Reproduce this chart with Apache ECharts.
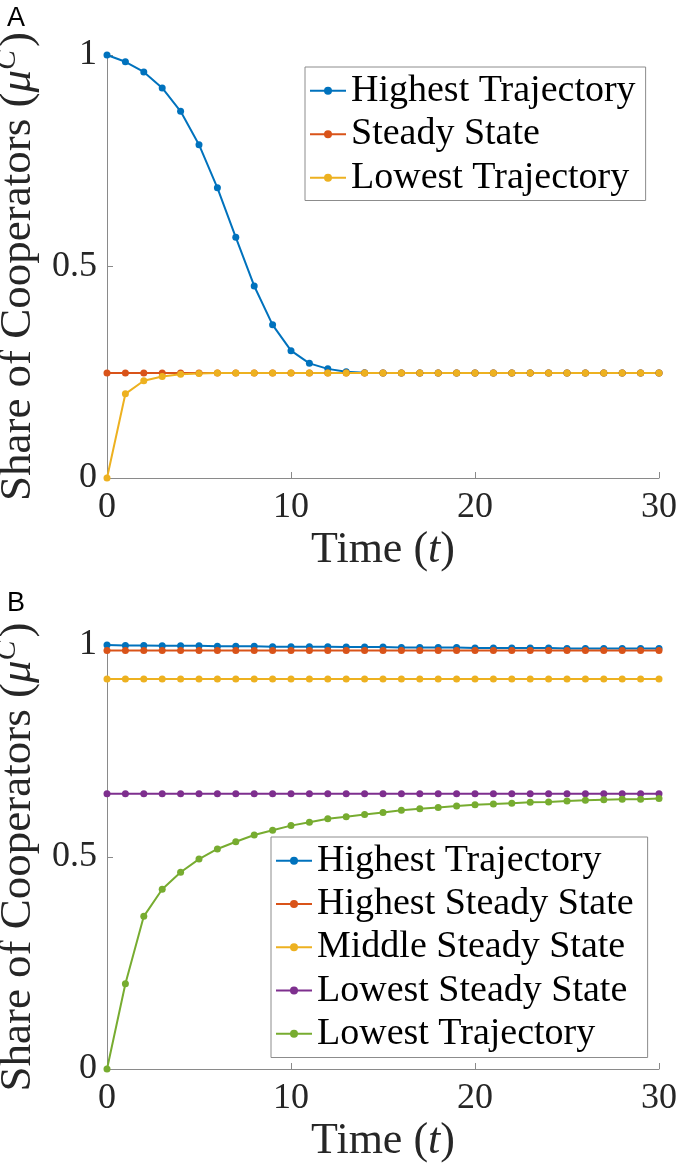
<!DOCTYPE html>
<html><head><meta charset="utf-8">
<script src="https://cdn.jsdelivr.net/npm/echarts@6/dist/echarts.min.js"></script>
<style>html,body{margin:0;padding:0;background:#fff}#c{width:677px;height:1176px}</style>
</head><body><div id="c"></div>
<script>
// ---- data ----
const timeSteps = [0,1,2,3,4,5,6,7,8,9,10,11,12,13,14,15,16,17,18,19,20,21,22,23,24,25,26,27,28,29,30];
const xTicks = [0,10,20,30];
const yTicks = [0,0.5,1];

// Panel A
const aHighestTrajectory = [1.000,0.984,0.960,0.922,0.867,0.788,0.686,0.569,0.454,0.362,0.301,0.271,0.258,0.251,0.249,0.248,0.248,0.248,0.248,0.248,0.248,0.248,0.248,0.248,0.248,0.248,0.248,0.248,0.248,0.248,0.248];
const aSteadyState = [0.248,0.248,0.248,0.248,0.248,0.248,0.248,0.248,0.248,0.248,0.248,0.248,0.248,0.248,0.248,0.248,0.248,0.248,0.248,0.248,0.248,0.248,0.248,0.248,0.248,0.248,0.248,0.248,0.248,0.248,0.248];
const aLowestTrajectory = [0.000,0.199,0.230,0.240,0.245,0.247,0.248,0.248,0.248,0.248,0.248,0.248,0.248,0.248,0.248,0.248,0.248,0.248,0.248,0.248,0.248,0.248,0.248,0.248,0.248,0.248,0.248,0.248,0.248,0.248,0.248];
const aNames = ['Highest Trajectory','Steady State','Lowest Trajectory'];

// Panel B
const bHighestTrajectory = [1.000,0.999,0.999,0.998,0.998,0.998,0.997,0.997,0.997,0.996,0.996,0.996,0.996,0.995,0.995,0.995,0.994,0.994,0.994,0.994,0.993,0.993,0.993,0.993,0.993,0.992,0.992,0.992,0.992,0.992,0.992];
const bHighestSteady = [0.987,0.987,0.987,0.987,0.987,0.987,0.987,0.987,0.987,0.987,0.987,0.987,0.987,0.987,0.987,0.987,0.987,0.987,0.987,0.987,0.987,0.987,0.987,0.987,0.987,0.987,0.987,0.987,0.987,0.987,0.987];
const bMiddleSteady = [0.920,0.920,0.920,0.920,0.920,0.920,0.920,0.920,0.920,0.920,0.920,0.920,0.920,0.920,0.920,0.920,0.920,0.920,0.920,0.920,0.920,0.920,0.920,0.920,0.920,0.920,0.920,0.920,0.920,0.920,0.920];
const bLowestSteady = [0.649,0.649,0.649,0.649,0.649,0.649,0.649,0.649,0.649,0.649,0.649,0.649,0.649,0.649,0.649,0.649,0.649,0.649,0.649,0.649,0.649,0.649,0.649,0.649,0.649,0.649,0.649,0.649,0.649,0.649,0.649];
const bLowestTrajectory = [0.000,0.201,0.360,0.424,0.464,0.495,0.519,0.536,0.552,0.563,0.574,0.582,0.590,0.595,0.600,0.605,0.610,0.614,0.617,0.620,0.623,0.625,0.627,0.629,0.630,0.632,0.634,0.635,0.636,0.636,0.638];
const bNames = ['Highest Trajectory','Highest Steady State','Middle Steady State','Lowest Steady State','Lowest Trajectory'];

const colors = ['#0072BD','#D95319','#EDB120','#7E2F8E','#77AC30'];
// ---- chart ----
const SERIF = "'Liberation Serif', 'Times New Roman', serif";
const TXT = '#262626';
const AX = '#8a8a8a';
const SEP = '\u2009|';

function pairs(vals){ return timeSteps.map((t,i)=>[t, vals[i]]); }

function mkX(gi){
  return {
    gridIndex: gi, type:'value', min:0, max:30, interval:10,
    axisLine:{show:true, onZero:false, lineStyle:{color:AX, width:1}},
    axisTick:{show:true, inside:true, length:6, lineStyle:{color:AX}},
    axisLabel:{fontFamily:SERIF, fontSize:36, color:TXT, margin:12,
      formatter: v => xTicks.includes(v) ? String(v) : ''},
    splitLine:{show:false},
    name:'Time ({it|t})', nameLocation:'middle', nameGap:50,
    nameTextStyle:{fontFamily:SERIF, fontSize:44, color:TXT,
      rich:{it:{fontFamily:SERIF, fontSize:44, fontStyle:'italic', color:TXT}}}
  };
}
function mkY(gi){
  return {
    gridIndex: gi, type:'value', min:0, max:1, interval:0.5,
    axisLine:{show:true, onZero:false, lineStyle:{color:AX, width:1}},
    axisTick:{show:true, inside:true, length:6, lineStyle:{color:AX}},
    axisLabel:{fontFamily:SERIF, fontSize:36, color:TXT, margin:10,
      formatter: v => yTicks.includes(v) ? String(v) : ''},
    splitLine:{show:false},
    name:'Share of Cooperators ({it|μ}{sup|C})', nameLocation:'middle', nameGap:53, nameRotate:90,
    nameTextStyle:{fontFamily:SERIF, fontSize:45, color:TXT,
      rich:{it:{fontFamily:SERIF, fontSize:45, fontStyle:'italic', color:TXT},
            sup:{fontFamily:SERIF, fontSize:30, fontStyle:'italic', color:TXT, verticalAlign:'top', padding:[0,3,22,0]}}}
  };
}
function mkSeries(name, vals, color, gi){
  return {
    name, type:'line', xAxisIndex:gi, yAxisIndex:gi, data:pairs(vals),
    symbol:'circle', symbolSize:7, showSymbol:true,
    lineStyle:{color, width:2}, itemStyle:{color},
    emphasis:{disabled:true}, animation:false
  };
}
const aKeys = aNames.map(n => 'A' + SEP + n);
const bKeys = bNames.map(n => 'B' + SEP + n);
const legendFmt = n => n.split(SEP)[1];

const option = {
  animation:false,
  grid:[
    {left:107, top:55, width:552, height:423, outerBoundsMode:'none', containLabel:false},
    {left:107, top:645, width:552, height:424, outerBoundsMode:'none', containLabel:false}
  ],
  xAxis:[mkX(0), mkX(1)],
  yAxis:[mkY(0), mkY(1)],
  legend:[
    {data:aKeys, orient:'vertical', left:305, top:67, itemWidth:36, itemHeight:10, itemGap:0,
     padding:[2,10,1,4], borderColor:'#8c8c8c', borderWidth:1, backgroundColor:'#fff',
     formatter:legendFmt, selectedMode:false,
     textStyle:{fontFamily:SERIF, fontSize:38, color:'#000', lineHeight:43.5}},
    {data:bKeys, orient:'vertical', left:271, top:837, itemWidth:36, itemHeight:10, itemGap:0,
     padding:[2,14,2,4], borderColor:'#8c8c8c', borderWidth:1, backgroundColor:'#fff',
     formatter:legendFmt, selectedMode:false,
     textStyle:{fontFamily:SERIF, fontSize:38, color:'#000', lineHeight:43.3}}
  ],
  graphic:[
    {type:'text', left:7, top:5, style:{text:'A', fontFamily:"'Liberation Sans', Arial, sans-serif", fontSize:27, fill:'#000'}},
    {type:'text', left:7, top:590, style:{text:'B', fontFamily:"'Liberation Sans', Arial, sans-serif", fontSize:27, fill:'#000'}}
  ],
  series:[
    mkSeries(aKeys[0], aHighestTrajectory, colors[0], 0),
    mkSeries(aKeys[1], aSteadyState, colors[1], 0),
    mkSeries(aKeys[2], aLowestTrajectory, colors[2], 0),
    mkSeries(bKeys[0], bHighestTrajectory, colors[0], 1),
    mkSeries(bKeys[1], bHighestSteady, colors[1], 1),
    mkSeries(bKeys[2], bMiddleSteady, colors[2], 1),
    mkSeries(bKeys[3], bLowestSteady, colors[3], 1),
    mkSeries(bKeys[4], bLowestTrajectory, colors[4], 1)
  ]
};
const chart = echarts.init(document.getElementById('c'), null, {renderer:'canvas'});
chart.setOption(option);
</script>
</body></html>
